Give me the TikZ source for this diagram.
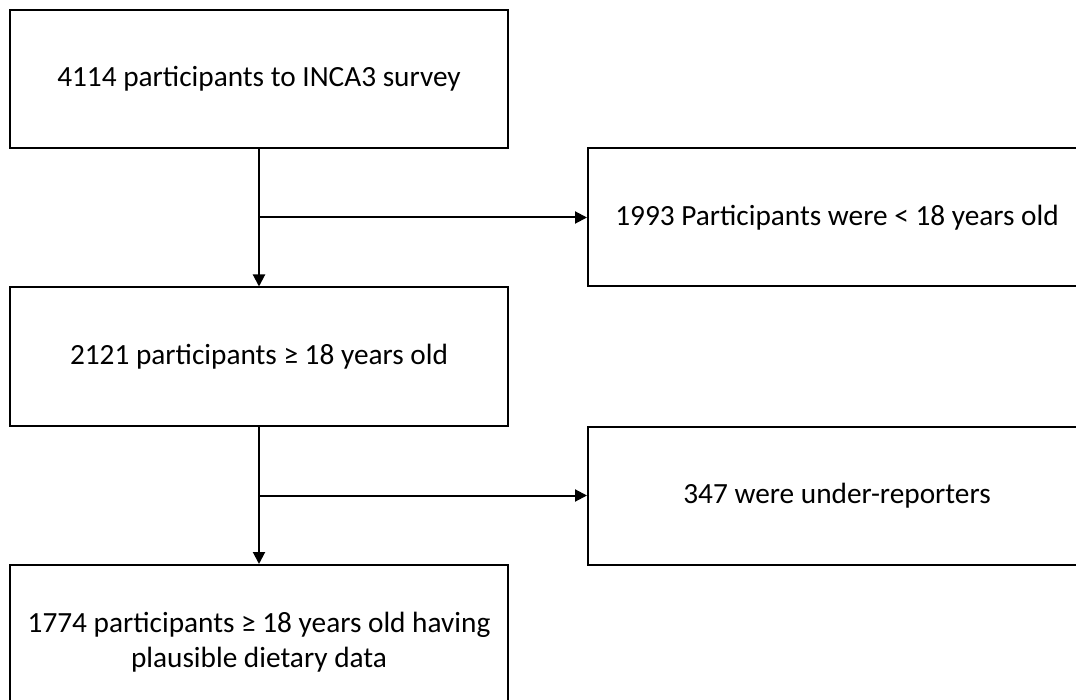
\documentclass[tikz,border=0pt]{standalone}
\usepackage{fontspec}
\setmainfont{Carlito}
\usetikzlibrary{arrows.meta}

\begin{document}
\begin{tikzpicture}[x=1pt, y=-1pt,
  box/.style={rectangle, draw=black, line width=2pt, minimum width=498pt, minimum height=138pt, align=center, font=\fontsize{29.3}{35}\selectfont, inner sep=0pt},
  arrow/.style={-{Triangle[length=12pt, width=12pt]}, line width=2pt}
]
\useasboundingbox (0,0) rectangle (1076,700);
\clip (0,0) rectangle (1076,700);

% Main flow
\node[box] (start) at (259,79) {4114 participants to INCA3 survey};
\node[box] (adults) at (259,356.5) {2121 participants ≥ 18 years old};
\node[box, minimum height=154pt] (final) at (259,642) {1774 participants ≥ 18 years old having\\plausible dietary data};

% Exclusions
\node[box] (excl1) at (837,217.5) {1993 Participants were < 18 years old};
\node[box] (excl2) at (837,495.5) {347 were under-reporters};

% Connections
\draw[arrow] (start) -- (adults);
\draw[arrow] (adults) -- (final);

\coordinate (branch1) at (start.south |- excl1.west);
\coordinate (branch2) at (adults.south |- excl2.west);
\draw[arrow] (branch1) -- (excl1);
\draw[arrow] (branch2) -- (excl2);

\end{tikzpicture}
\end{document}
